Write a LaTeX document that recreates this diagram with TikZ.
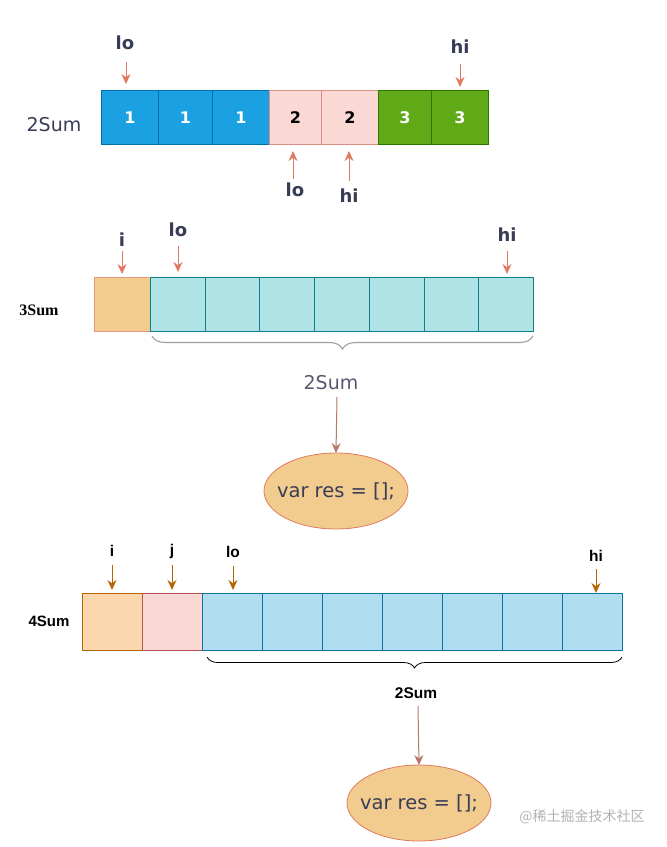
\documentclass[tikz,border=0pt]{standalone}
\usepackage{fontspec}
\setmainfont{DejaVu Sans}
\newfontfamily\arialf{Liberation Sans}
\newfontfamily\timesf{Liberation Serif}
\newfontfamily\cjkf{Noto Sans CJK SC}
\usetikzlibrary{arrows.meta,decorations.pathreplacing,shapes.geometric}
\definecolor{blueF}{HTML}{1BA1E2}
\definecolor{blueD}{HTML}{006EAF}
\definecolor{pinkF}{HTML}{FAD9D5}
\definecolor{pinkD}{HTML}{DB8D83}
\definecolor{greenF}{HTML}{60A917}
\definecolor{greenD}{HTML}{2D7600}
\definecolor{salmon}{HTML}{E07A5F}
\definecolor{orF}{HTML}{F2CC8F}
\definecolor{tealF}{HTML}{B0E3E6}
\definecolor{tealD}{HTML}{0E8088}
\definecolor{navy}{HTML}{393C56}
\definecolor{muted}{HTML}{B9776E}
\definecolor{or3F}{HTML}{FAD7AC}
\definecolor{or3D}{HTML}{B46504}
\definecolor{pk3D}{HTML}{B85450}
\definecolor{bl3F}{HTML}{B1DDF0}
\definecolor{bl3D}{HTML}{10739E}
\tikzset{
  cellbox/.style={draw, line width=0.8pt, inner sep=0pt, anchor=north west},
  lbl/.style={font=\bfseries\fontsize{18}{18}\selectfont, text=navy, inner sep=0pt},
  lbl3/.style={font=\arialf\bfseries\fontsize{15.5}{15.5}\selectfont, text=black, inner sep=0pt},
  parr/.style={draw=salmon, line width=1pt, -{Stealth[length=10pt,width=9pt]}},
  oarr/.style={draw=or3D, line width=1pt, -{Stealth[length=10pt,width=9pt]}},
  num/.style={font=\bfseries\fontsize{16}{16}\selectfont},
  oval/.style={ellipse, draw=salmon, fill=orF, line width=0.8pt, minimum width=144pt, minimum height=76pt, inner sep=0pt},
  ovaltext/.style={font=\fontsize{19.5}{19.5}\selectfont, text=navy, inner sep=0pt},
}
\begin{document}
\begin{tikzpicture}[x=1pt,y=-1pt]
\useasboundingbox (0,0) rectangle (667,847);
% ---------- Section 1 ----------
\node[font=\fontsize{19}{19}\selectfont, text=navy] (t2) at (54,125) {2Sum};
\foreach \n/\xa/\xb/\f/\d/\v/\tc in {a/101/158/blueF/blueD/1/white, b/158/212/blueF/blueD/1/white, c/212/269/blueF/blueD/1/white, d/269/321/pinkF/pinkD/2/black, e/321/378/pinkF/pinkD/2/black, f/378/431/greenF/greenD/3/white, g/431/488/greenF/greenD/3/white}{
  \node[cellbox, fill=\f, draw=\d, minimum width={\xb-\xa}, minimum height=54pt] (s1\n) at (\xa,90) {};
  \node[num, text=\tc] at (s1\n.center) {\v};
}
\node[lbl] (l1) at (125,43) {lo};
\coordinate (l1a) at (126,62);
\draw[parr] (l1a) -- (126,84);
\node[lbl] (h1) at (460,47) {hi};
\coordinate (h1a) at (460,64);
\draw[parr] (h1a) -- (460,87);
\coordinate (l2a) at (293,179);
\draw[parr] (l2a) -- (293,151);
\node[lbl] (l2) at (295,190) {lo};
\coordinate (h2a) at (349,181);
\draw[parr] (h2a) -- (349,151);
\node[lbl] (h2) at (349,196) {hi};
% ---------- Section 2 ----------
\node[font=\timesf\bfseries\fontsize{16}{16}\selectfont] (t3) at (39,310) {3Sum};
\node[cellbox, fill=orF, draw=salmon!80, minimum width=56pt, minimum height=54pt] (s2i) at (94,277) {};
\foreach \k in {0,...,6}{
  \node[cellbox, fill=tealF, draw=tealD, minimum width=54.7pt, minimum height=54pt] (s2c\k) at ({150+54.7*\k},277) {};
}
\node[lbl] (i2) at (122,240) {i};
\draw[parr] (122,251) -- (122,274);
\node[lbl] (lo2) at (178,230) {lo};
\draw[parr] (178,246) -- (178,272);
\node[lbl] (hi2) at (507,235) {hi};
\draw[parr] (507,251) -- (507,274);
\coordinate (b2l) at (152,336);
\coordinate (b2r) at (533,336);
\draw[draw=gray!75, line width=1.1pt, decorate, decoration={brace, mirror, amplitude=13pt, aspect=0.5}] (b2l) -- (b2r);
\node[font=\fontsize{19}{19}\selectfont, text=navy!85] (s2t) at (331,383) {2Sum};
\node[oval] (e2) at (336,491) {};
\node[ovaltext] (e2t) at (e2.center) {var res = [];};
\draw[draw=muted, line width=1pt, -{Stealth[length=10pt,width=9pt]}, shorten >=-0.5pt] (337,397) -- (e2.north);
% ---------- Section 3 ----------
\node[font=\arialf\bfseries\fontsize{15}{15}\selectfont] (t4) at (49,621) {4Sum};
\node[cellbox, fill=or3F, draw=or3D, minimum width=60pt, minimum height=57pt] (s3i) at (82,593) {};
\node[cellbox, fill=pinkF, draw=pk3D, minimum width=60pt, minimum height=57pt] (s3j) at (142,593) {};
\foreach \k in {0,...,6}{
  \node[cellbox, fill=bl3F, draw=bl3D, minimum width=60pt, minimum height=57pt] (s3c\k) at ({202+60*\k},593) {};
}
\node[lbl3] (i3) at (112,551) {i};
\draw[oarr] (112,565) -- (112,590);
\node[lbl3] (j3) at (172,551) {j};
\draw[oarr] (172,565) -- (172,590);
\node[lbl3] (lo3) at (233,552) {lo};
\draw[oarr] (233,566) -- (233,590);
\node[lbl3] (hi3) at (596,556) {hi};
\draw[oarr] (596,569) -- (596,593);
\coordinate (b3l) at (207,657);
\coordinate (b3r) at (622,657);
\draw[line width=0.8pt, decorate, decoration={brace, mirror, amplitude=11pt}] (b3l) -- (b3r);
\node[lbl3] (s3t) at (416,693) {2Sum};
\node[oval] (e3) at (419,803) {};
\node[ovaltext] (e3t) at (e3.center) {var res = [];};
\draw[draw=muted, line width=1pt, -{Stealth[length=10pt,width=9pt]}, shorten >=-0.5pt] (418,706) -- (e3.north);
\node[font=\cjkf\fontsize{14}{14}\selectfont, text=gray!60] (wm) at (582,817) {@稀土掘金技术社区};
\end{tikzpicture}
\end{document}
